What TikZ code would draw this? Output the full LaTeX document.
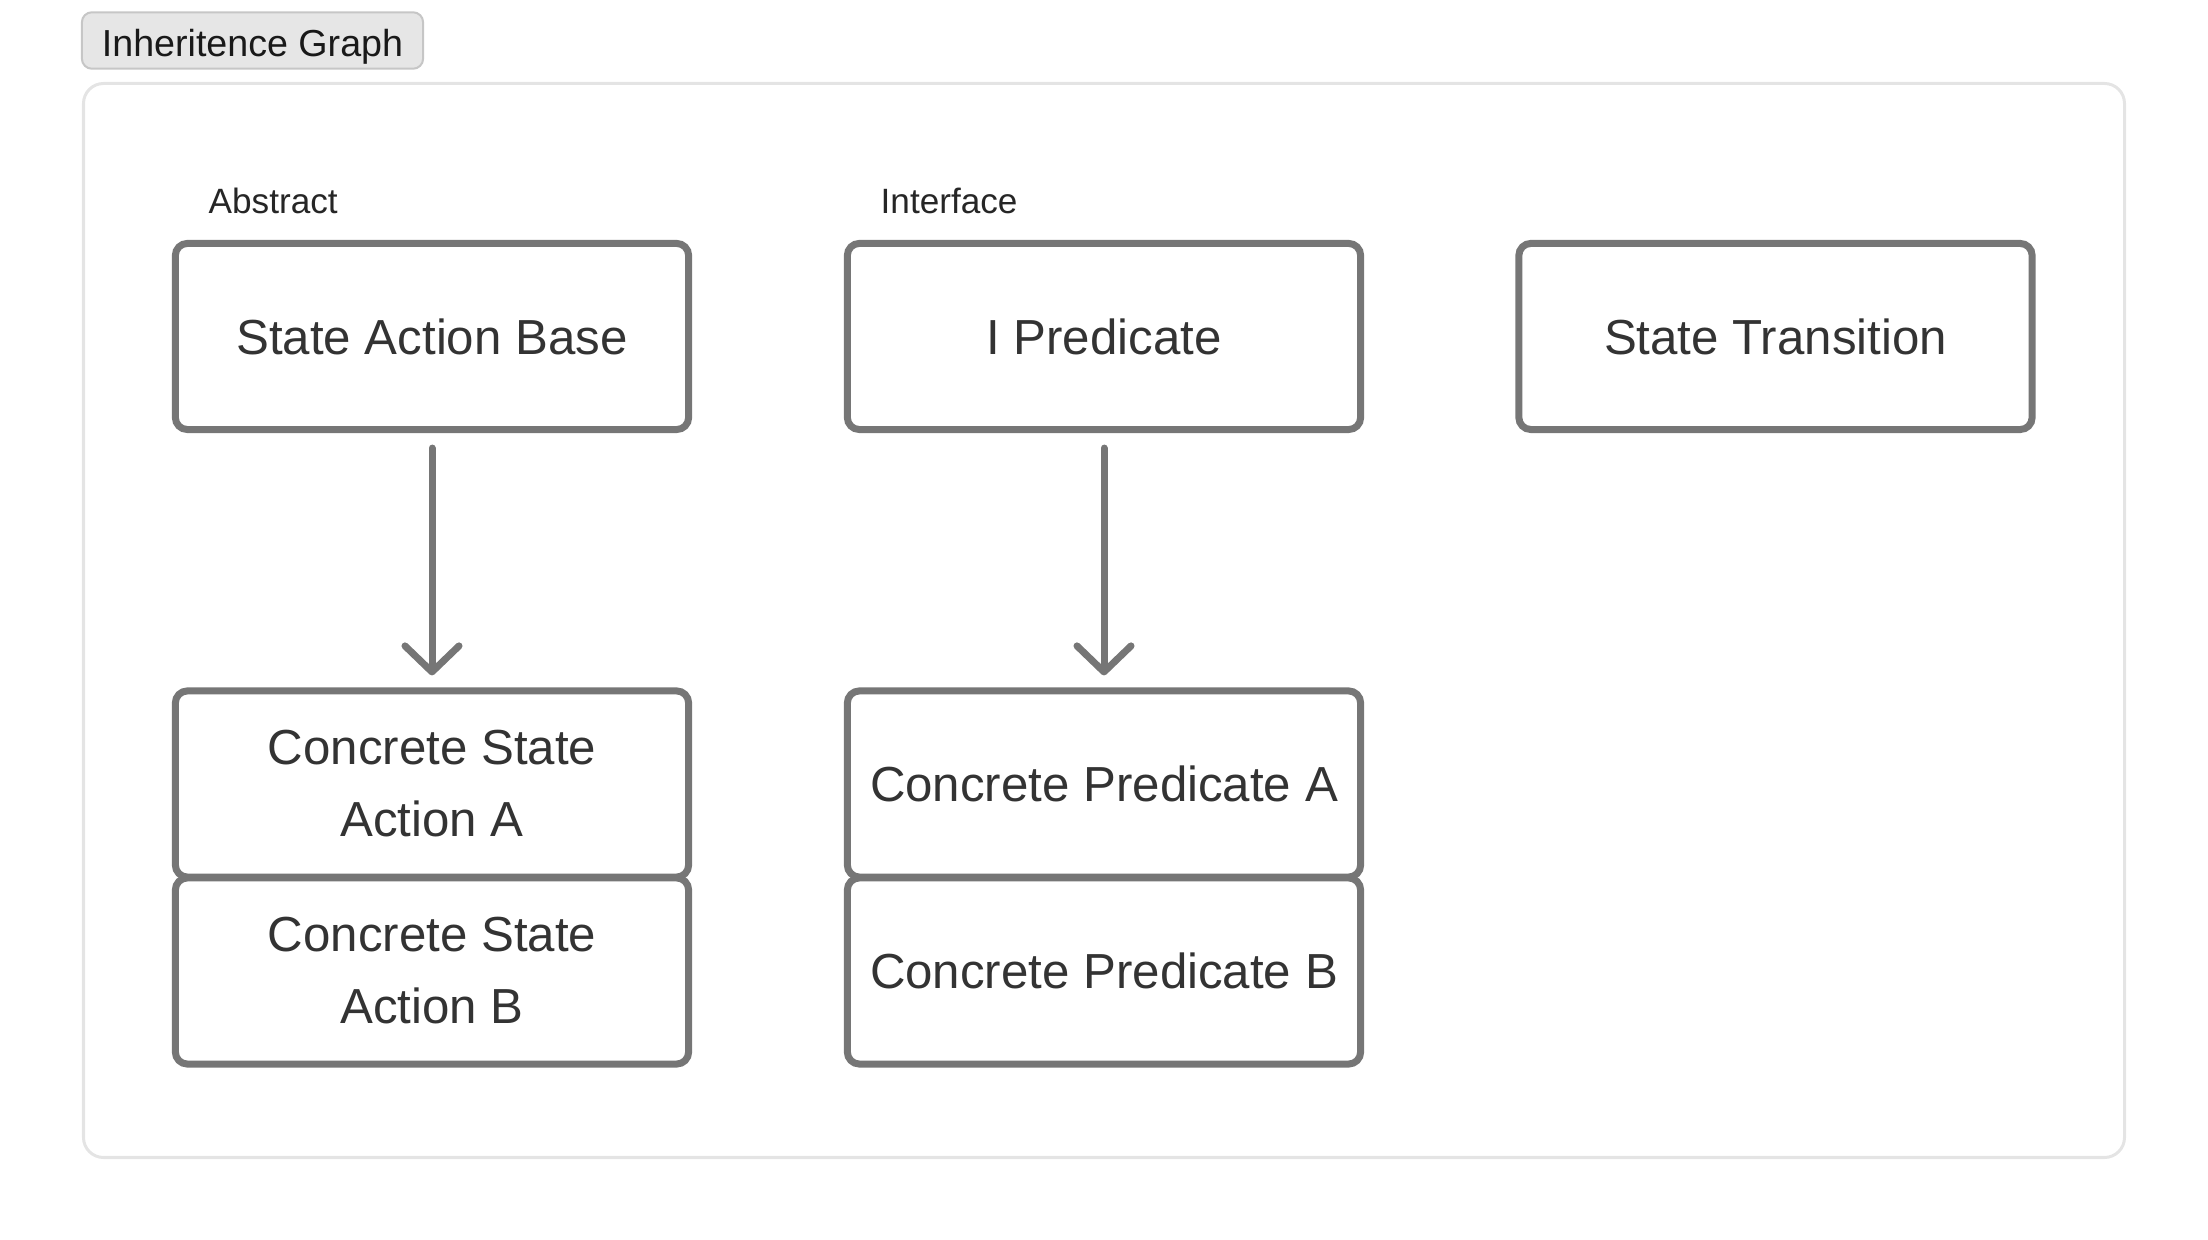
\documentclass[tikz,border=0pt]{standalone}
\usepackage{fontspec}
\setmainfont{Liberation Sans}
\usetikzlibrary{arrows.meta,positioning}

\definecolor{boxgray}{HTML}{767676}
\definecolor{inkgray}{HTML}{333333}
\definecolor{panelgray}{HTML}{E4E4E4}
\definecolor{tabfill}{HTML}{E6E6E6}
\definecolor{tabline}{HTML}{C6C6C6}

\tikzset{
  classbox/.style={draw=boxgray,line width=0.07cm,rounded corners=0.12cm,fill=white,
    minimum width=5.13cm,minimum height=1.86cm,inner sep=0pt,align=center,
    text=inkgray,font=\fontsize{14}{20.5}\selectfont},
  kindlabel/.style={anchor=west,inner sep=0pt,text=black!85,font=\fontsize{10}{12}\selectfont},
  inherits/.style={draw,->,boxgray,line width=0.07cm,line cap=round,shorten <=0.15cm,shorten >=0.12cm},
}

\begin{document}
\begin{tikzpicture}[x=0.01cm,y=-0.01cm,>={Straight Barb[length=0.26cm,width=0.54cm,round]}]

\useasboundingbox (0,0) rectangle (2208,1240);

\draw [panelgray,line width=0.03cm,rounded corners=0.2cm] (83.5,83.5) rectangle (2124.5,1157.5);

\node (tab) at (252.5,40.5) [draw=tabline,fill=tabfill,line width=0.02cm,rounded corners=0.1cm,
  minimum width=3.41cm,minimum height=0.53cm,text height=0.33cm,text depth=0cm,
  text=black!90,font=\fontsize{10.7}{12}\selectfont] {Inheritence Graph};

\node (base) [classbox] at (432,336.5) {State Action Base};
\node (pred) [classbox] at (1104,336.5) {I Predicate};
\node (trans) [classbox] at (1775.5,336.5) {State Transition};

\node (actA) [classbox] at (432,784) {Concrete State\\Action A};
\node (actB) [classbox] at (432,971) {Concrete State\\Action B};
\node (predA) [classbox] at (1104,784) {Concrete Predicate A};
\node (predB) [classbox] at (1104,971) {Concrete Predicate B};

\node (abstract) [kindlabel] at (208,201) {Abstract};
\node (interface) [kindlabel] at (880,201) {Interface};

\path [inherits] (base) -- (actA);
\path [inherits] (pred) -- (predA);

\end{tikzpicture}
\end{document}
